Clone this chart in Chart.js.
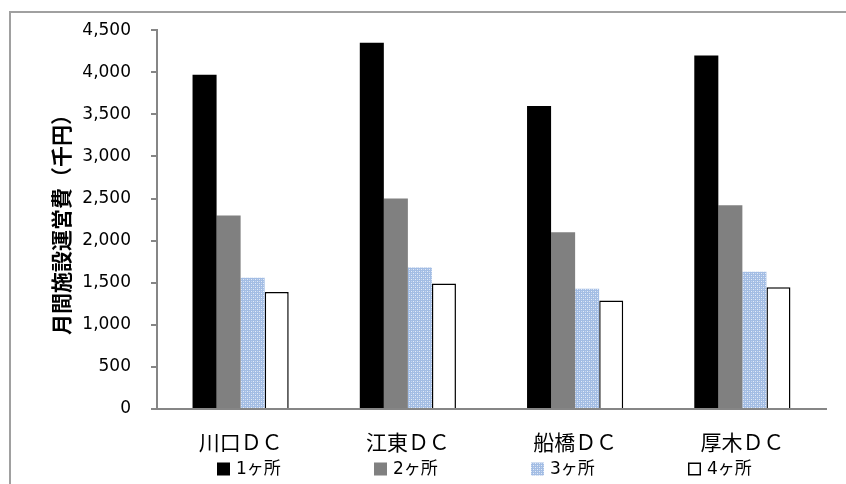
<!DOCTYPE html>
<html>
<head>
<meta charset="utf-8">
<script src="https://cdn.jsdelivr.net/npm/chart.js@4/dist/chart.umd.min.js"></script>
<style>
  html, body { margin: 0; padding: 0; background: #ffffff; }
  canvas { display: block; }
</style>
</head>
<body>
<canvas id="chart" width="846" height="484"></canvas>
<script>
// Monthly facility operating cost (thousand yen) per distribution centre
const categories = ['川口ＤＣ', '江東ＤＣ', '船橋ＤＣ', '厚木ＤＣ'];
const seriesNames = ['1ヶ所', '2ヶ所', '3ヶ所', '4ヶ所'];
const oneSite    = [3970, 4350, 3600, 4200];
const twoSites   = [2300, 2500, 2100, 2420];
const threeSites = [1560, 1680, 1430, 1630];
const fourSites  = [1390, 1490, 1290, 1445];
const yMax = 4500;
const yStep = 500;
const yTitle = '月間施設運営費（千円）';

// small dotted light-blue fill
function makeDotPattern() {
  const pc = document.createElement('canvas');
  pc.width = 4; pc.height = 4;
  const p = pc.getContext('2d');
  p.fillStyle = '#a3bde4';
  p.fillRect(0, 0, 4, 4);
  p.fillStyle = '#e4ecf8';
  p.fillRect(1, 1, 1, 1);
  p.fillRect(3, 3, 1, 1);
  p.fillStyle = '#c5d5ee';
  p.fillRect(1, 3, 1, 1);
  p.fillRect(3, 1, 1, 1);
  return document.getElementById('chart').getContext('2d').createPattern(pc, 'repeat');
}
const dots = makeDotPattern();

const axisGrey = '#868686';
const tickFont = { family: '"DejaVu Sans", "Noto Sans CJK JP", sans-serif', size: 17 };
const catFont = { family: '"Noto Sans CJK JP", "DejaVu Sans", sans-serif', size: 21 };
const legendFont = '17px "DejaVu Sans", "Noto Sans CJK JP", sans-serif';

// outer frame (left and top edges visible)
const framePlugin = {
  id: 'frame',
  beforeDraw(chart) {
    const c = chart.ctx;
    c.save();
    c.fillStyle = '#ffffff';
    c.fillRect(0, 0, chart.width, chart.height);
    c.strokeStyle = '#a0a0a0';
    c.lineWidth = 2;
    c.beginPath();
    c.moveTo(10, chart.height);
    c.lineTo(10, 12);
    c.lineTo(chart.width, 12);
    c.stroke();
    c.restore();
  }
};

// legend row under the category labels
const legendRow = {
  id: 'legendRow',
  afterDraw(chart) {
    const c = chart.ctx;
    const startX = 217, gap = 157, cy = 469, box = 13;
    c.save();
    c.font = legendFont;
    c.textBaseline = 'middle';
    c.textAlign = 'left';
    chart.data.datasets.forEach((ds, i) => {
      const x = startX + i * gap;
      c.fillStyle = ds.backgroundColor;
      c.fillRect(x, cy - box / 2, box, box);
      if (ds.borderWidth) {
        c.strokeStyle = ds.borderColor;
        c.lineWidth = 1.5;
        c.strokeRect(x + 0.75, cy - box / 2 + 0.75, box - 1.5, box - 1.5);
      }
      c.fillStyle = '#000000';
      c.fillText(ds.label, x + box + 6, cy + 1);
    });
    c.restore();
  }
};

new Chart(document.getElementById('chart'), {
  type: 'bar',
  data: {
    labels: categories,
    datasets: [
      { label: seriesNames[0], data: oneSite,    backgroundColor: '#000000', borderWidth: 0 },
      { label: seriesNames[1], data: twoSites,   backgroundColor: '#808080', borderWidth: 0 },
      { label: seriesNames[2], data: threeSites, backgroundColor: dots,      borderWidth: 0 },
      { label: seriesNames[3], data: fourSites,  backgroundColor: '#ffffff', borderColor: '#000000', borderWidth: 1.5 }
    ]
  },
  options: {
    responsive: false,
    animation: false,
    devicePixelRatio: 1,
    layout: { padding: { left: 10, right: 20, top: 25, bottom: 20 } },
    datasets: { bar: { barPercentage: 1.0, categoryPercentage: 0.575 } },
    plugins: {
      legend: { display: false },
      tooltip: { enabled: false }
    },
    scales: {
      x: {
        grid: { display: false, drawTicks: false },
        border: { color: axisGrey, width: 2 },
        ticks: { color: '#000000', font: catFont, padding: 20, maxRotation: 0 },
        afterFit(s) { s.height = 55; }
      },
      y: {
        min: 0,
        max: yMax,
        ticks: {
          stepSize: yStep,
          color: '#000000',
          font: tickFont,
          padding: 20,
          callback: v => Number(v).toLocaleString('en-US')
        },
        grid: { drawOnChartArea: false, drawTicks: true, tickLength: 6, color: axisGrey, lineWidth: 2 },
        border: { color: axisGrey, width: 2 },
        title: {
          display: true,
          text: yTitle,
          color: '#000000',
          font: { family: '"Noto Sans CJK JP", sans-serif', size: 21, weight: 'bold' },
          padding: { top: 38, bottom: 0 }
        },
        afterFit(s) { s.width = 147; }
      }
    }
  },
  plugins: [framePlugin, legendRow]
});
</script>
</body>
</html>
